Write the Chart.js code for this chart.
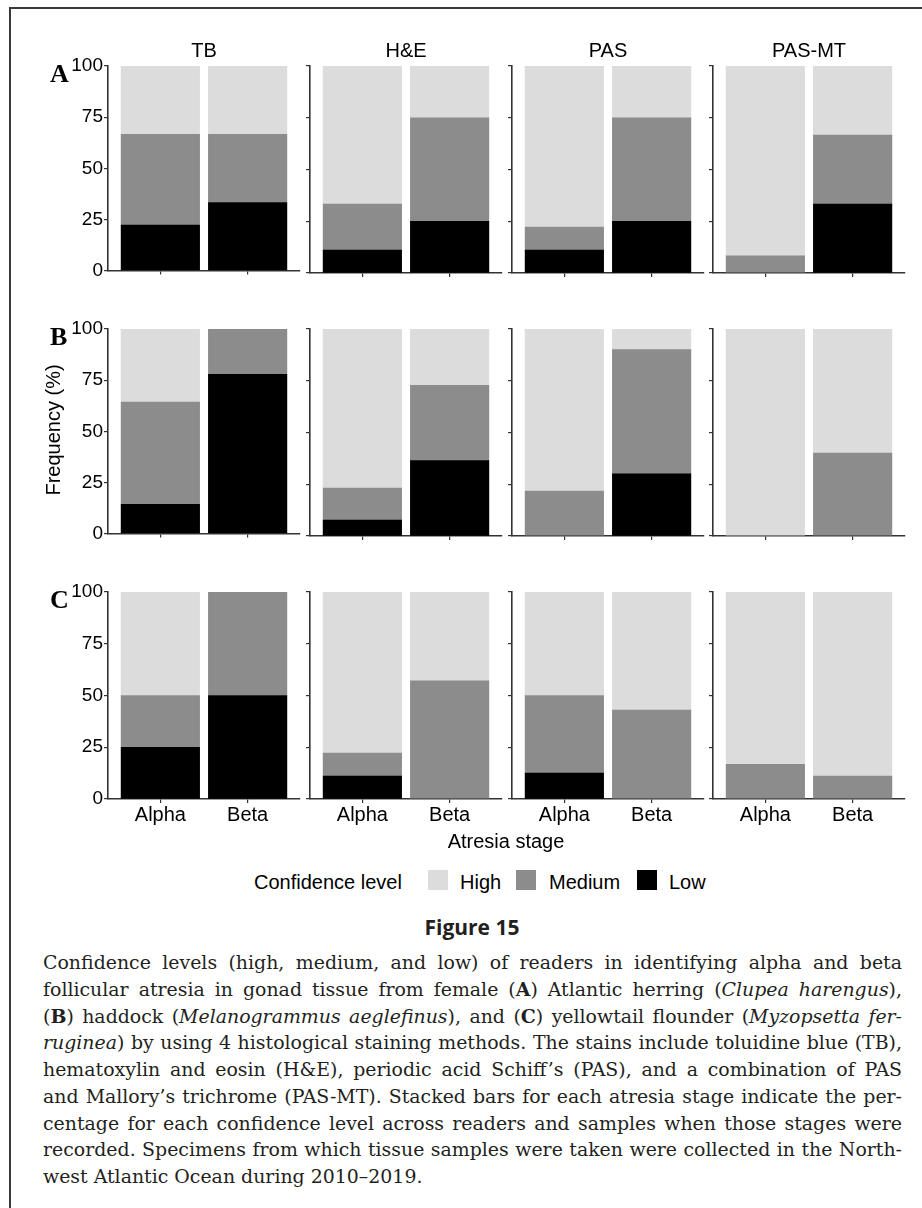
<!DOCTYPE html>
<html>
<head>
<meta charset="utf-8">
<script src="https://cdn.jsdelivr.net/npm/chart.js@4.4.1/dist/chart.umd.min.js"></script>
<style>
  body { margin: 0; width: 922px; height: 1208px; position: relative; background: #fff; overflow: hidden; font-family: "Liberation Sans", Arial, sans-serif; color: #000; }
  .abs { position: absolute; white-space: nowrap; }
  #frame { position: absolute; left: 9px; top: 7px; width: 930px; height: 1220px; border-top: 2px solid #3a3a3a; border-left: 2.5px solid #3a3a3a; }
  .strip { font-size: 20px; line-height: 20px; text-align: center; width: 192px; }
  .tag { font-family: "Liberation Serif", "Times New Roman", serif; font-weight: bold; font-size: 26px; line-height: 26px; }
  .key { position: absolute; width: 20px; height: 20px; }
  #fig { font-family: "Open Sans", sans-serif; font-weight: 700; font-size: 21px; line-height: 21px; color: #231f20; width: 944px; left: 0; text-align: center; }
  #caption { position: absolute; left: 43px; top: 949px; width: 859px; font-family: "DejaVu Serif", serif; color: #231f20; }
  #caption div { white-space: nowrap; text-align: justify; text-align-last: justify; line-height: 26.75px; }
  #caption div.last { text-align-last: left; }
</style>
</head>
<body>
<div id="frame"></div>

<script>
const stains = ['TB', 'H&E', 'PAS', 'PAS-MT'];
const stages = ['Alpha', 'Beta'];
const panelTags = ['A', 'B', 'C'];
const levels = ['High', 'Medium', 'Low'];
const yTicks = [0, 25, 50, 75, 100];

// percentages, order: TB-Alpha, TB-Beta, H&E-Alpha, H&E-Beta, PAS-Alpha, PAS-Beta, PAS-MT-Alpha, PAS-MT-Beta
const highA = [33.3, 33.3, 66.7, 25.0, 77.8, 25.0, 91.7, 33.3];
const mediumA = [44.4, 33.3, 22.2, 50.0, 11.1, 50.0, 8.3, 33.3];
const lowA = [22.2, 33.3, 11.1, 25.0, 11.1, 25.0, 0, 33.3];

const highB = [35.7, 0, 76.9, 27.3, 78.3, 10.0, 100, 60.0];
const mediumB = [50.0, 22.2, 15.4, 36.4, 21.7, 60.0, 0, 40.0];
const lowB = [14.3, 77.8, 7.7, 36.4, 0, 30.0, 0, 0];

const highC = [50.0, 0, 77.8, 42.9, 50.0, 57.1, 83.3, 88.9];
const mediumC = [25.0, 50.0, 11.1, 57.1, 37.5, 42.9, 16.7, 11.1];
const lowC = [25.0, 50.0, 11.1, 0, 12.5, 0, 0, 0];

const species = [
  [highA, mediumA, lowA],
  [highB, mediumB, lowB],
  [highC, mediumC, lowC]
];
const levelColors = ['#dcdcdc', '#8c8c8c', '#000000'];

// layout
const PLOT_L = [108, 310, 512, 713];
const PLOT_T = [66, 329, 592];
const PLOT_W = 192;
const PLOT_H = 207;
const TOP_PAD = 14;

function addText(cls, text, left, top, extra) {
  const d = document.createElement('div');
  d.className = 'abs ' + cls;
  d.textContent = text;
  d.style.left = left + 'px';
  d.style.top = top + 'px';
  if (extra) d.style.cssText += extra;
  document.body.appendChild(d);
  return d;
}

function makePanel(r, c) {
  const yw = c === 0 ? 70 : 10;
  const xh = r === 2 ? 34 : 10;
  const w = yw + PLOT_W + 4;
  const h = TOP_PAD + PLOT_H + xh;
  const canvas = document.createElement('canvas');
  canvas.width = w;
  canvas.height = h;
  canvas.style.cssText = 'position:absolute;left:' + (PLOT_L[c] - yw) + 'px;top:' + (PLOT_T[r] - TOP_PAD) + 'px;width:' + w + 'px;height:' + h + 'px';
  document.body.appendChild(canvas);

  // stacked from the bottom: Low, Medium, High
  const datasets = [2, 1, 0].map(k => ({
    label: levels[k],
    data: stages.map((s, j) => ({ x: j + 1, y: species[r][k][c * 2 + j] })),
    backgroundColor: levelColors[k],
    borderWidth: 0,
    barThickness: 78.5
  }));

  const axisGrid = { display: true, drawOnChartArea: false, drawTicks: true, tickLength: 4, color: '#333', lineWidth: 1.2, offset: false };
  const axisBorder = { display: true, color: '#333', width: 1.6 };

  new Chart(canvas, {
    type: 'bar',
    data: { datasets },
    options: {
      responsive: false,
      animation: false,
      devicePixelRatio: 1,
      layout: { padding: { top: TOP_PAD, right: 4, left: 0, bottom: 0 } },
      plugins: { legend: { display: false }, tooltip: { enabled: false } },
      scales: {
        x: {
          type: 'linear', min: 0.4, max: 2.6, stacked: true, offset: false, bounds: 'data',
          afterBuildTicks: s => { s.ticks = stages.map((st, j) => ({ value: j + 1 })); },
          afterFit: s => { s.height = xh; },
          grid: axisGrid, border: axisBorder,
          ticks: {
            display: r === 2, padding: 0, color: '#000', autoSkip: false, maxRotation: 0,
            font: { family: 'Liberation Sans', size: 20 },
            callback: v => stages[Math.round(v) - 1]
          }
        },
        y: {
          min: 0, max: 100, stacked: true,
          afterBuildTicks: s => { s.ticks = yTicks.map(v => ({ value: v })); },
          afterFit: s => { s.width = yw; },
          grid: axisGrid, border: axisBorder,
          ticks: {
            display: c === 0, padding: 1, color: '#000',
            font: { family: 'Liberation Sans', size: 19 }
          }
        }
      }
    }
  });
}

for (let r = 0; r < 3; r++) {
  for (let c = 0; c < 4; c++) makePanel(r, c);
  addText('tag', panelTags[r], 50, PLOT_T[r] - 4.6);
}
stains.forEach((s, c) => addText('strip', s, PLOT_L[c], 40));

// axis titles
addText('', 'Frequency (%)', 53, 430, 'font-size:20px;line-height:20px;transform:translate(-50%,-50%) rotate(-90deg);');
addText('', 'Atresia stage', 0, 831, 'font-size:20px;line-height:20px;width:' + (PLOT_L[0] * 2 + 796) + 'px;text-align:center;');

// legend
const legendTop = 872;
addText('', 'Confidence level', 254, legendTop, 'font-size:20px;line-height:20px;');
const keyX = [428, 516, 637];
const labelX = [460, 549, 669];
levels.forEach((lv, k) => {
  const b = document.createElement('div');
  b.className = 'key';
  b.style.left = keyX[k] + 'px';
  b.style.top = '870px';
  b.style.background = levelColors[k];
  document.body.appendChild(b);
  addText('', lv, labelX[k], legendTop, 'font-size:20px;line-height:20px;');
});

addText('', 'Figure 15', 0, 917).id = 'fig';
</script>

<div id="caption">
  <div>Confidence levels (high, medium, and low) of readers in identifying alpha and beta</div>
  <div>follicular atresia in gonad tissue from female (<b>A</b>) Atlantic herring (<i>Clupea harengus</i>),</div>
  <div>(<b>B</b>) haddock (<i>Melanogrammus aeglefinus</i>), and (<b>C</b>) yellowtail flounder (<i>Myzopsetta fer-</i></div>
  <div><i>ruginea</i>) by using 4 histological staining methods. The stains include toluidine blue (TB),</div>
  <div>hematoxylin and eosin (H&amp;E), periodic acid Schiff’s (PAS), and a combination of PAS</div>
  <div>and Mallory’s trichrome (PAS-MT). Stacked bars for each atresia stage indicate the per-</div>
  <div>centage for each confidence level across readers and samples when those stages were</div>
  <div>recorded. Specimens from which tissue samples were taken were collected in the North-</div>
  <div class="last">west Atlantic Ocean during 2010–2019.</div>
</div>
<script>
  // fit caption font so that the widest line fits, then justify
  (function () {
    const cap = document.getElementById('caption');
    const lines = Array.from(cap.children);
    let size = 19;
    cap.style.fontSize = size + 'px';
    let maxW = 0;
    lines.forEach(l => {
      const span = document.createElement('span');
      span.innerHTML = l.innerHTML;
      span.style.whiteSpace = 'nowrap';
      l.innerHTML = '';
      l.appendChild(span);
      maxW = Math.max(maxW, span.getBoundingClientRect().width);
      l.innerHTML = span.innerHTML;
    });
    if (maxW > 855) size = size * 855 / maxW;
    cap.style.fontSize = size + 'px';
  })();
</script>
</body>
</html>
